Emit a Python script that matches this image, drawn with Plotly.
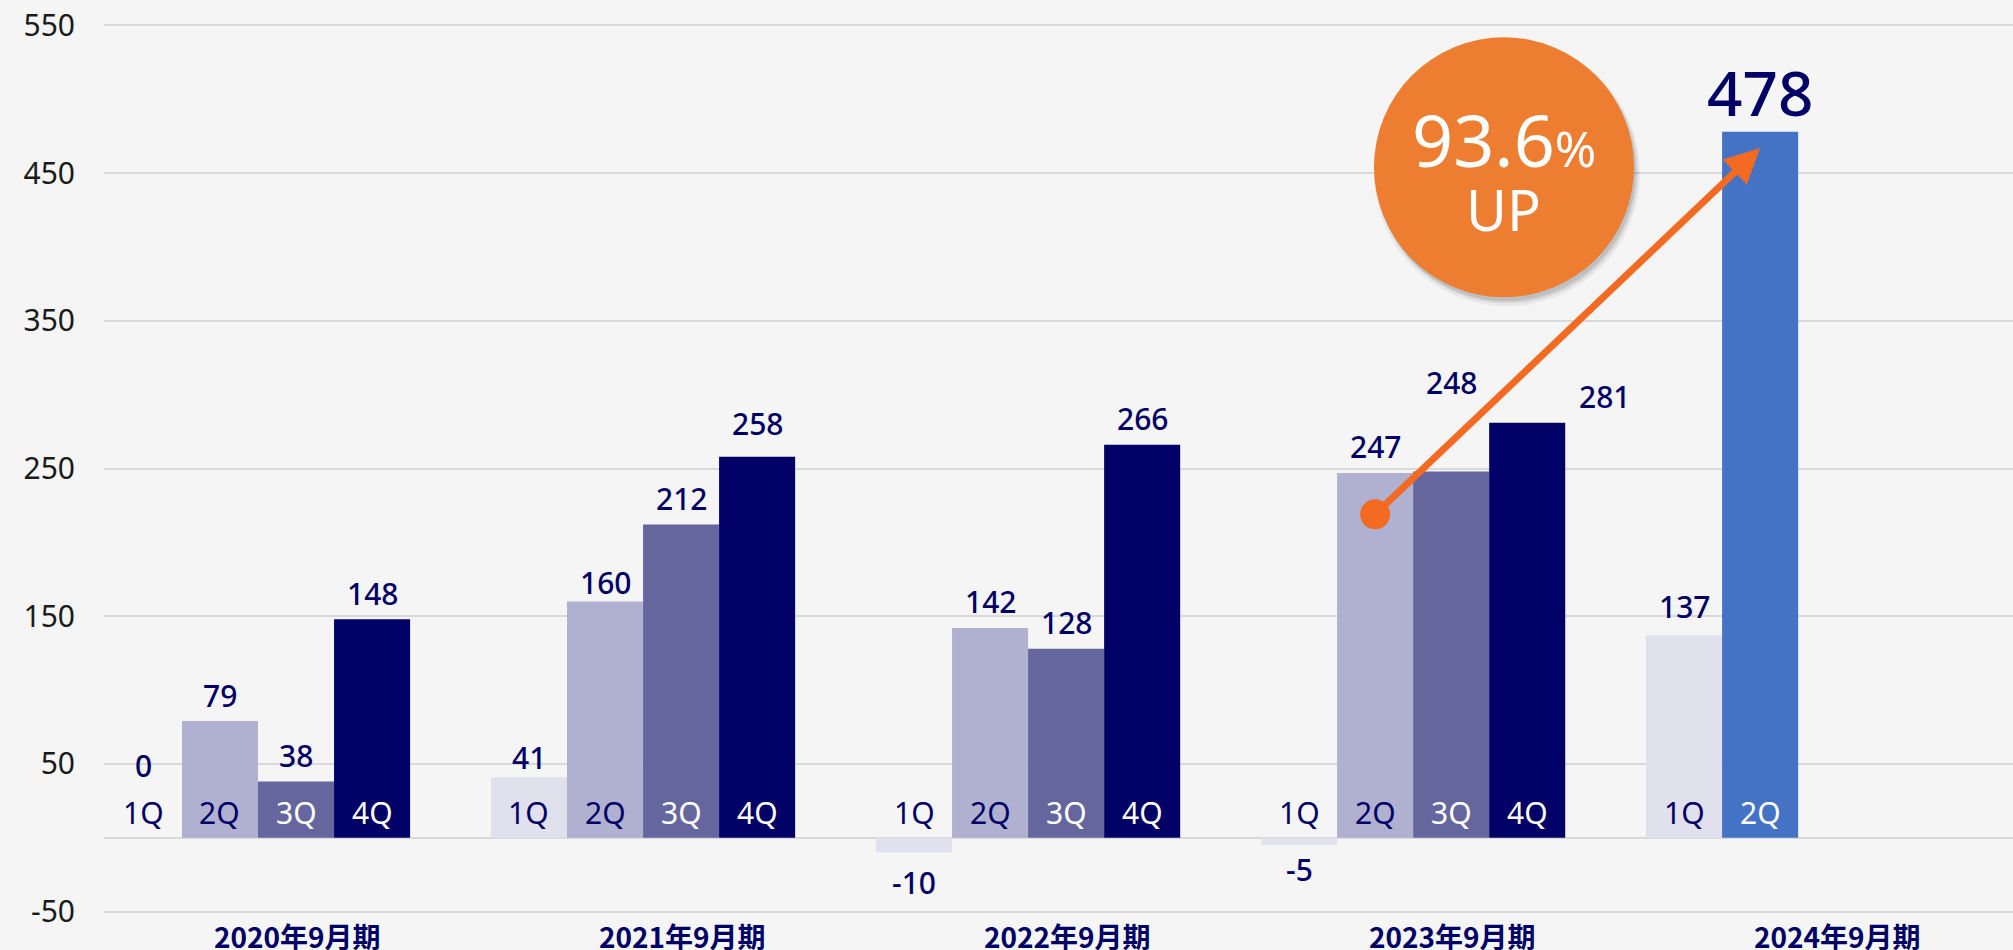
import plotly.graph_objects as go

# ---------------- data ----------------
years = ["2020年9月期", "2021年9月期", "2022年9月期", "2023年9月期", "2024年9月期"]
quarters = ["1Q", "2Q", "3Q", "4Q"]
q1_values = [0, 41, -10, -5, 137]
q2_values = [79, 160, 142, 247, 478]
q3_values = [38, 212, 128, 248, None]
q4_values = [148, 258, 266, 281, None]
y_tick_values = [-50, 50, 150, 250, 350, 450, 550]
growth_text = "93.6"
growth_suffix = "%"
growth_word = "UP"

# ---------------- style ----------------
BG = "#f5f5f5"
GRID = "#d9d9d9"
NAVY = "#000066"
Q_COLORS = ["#e1e1ee", "#b0b0d0", "#66669f", "#000066"]
Q_TEXT = [NAVY, NAVY, "white", "white"]
HIGHLIGHT = "#4472c4"
ORANGE = "#ed7d31"
ARROW = "#f36b22"
FONT = "Noto Sans"
CJK = "Noto Sans CJK JP"

BARGAP = 0.21
W = (1 - BARGAP) / 4
OFFSETS = [-(1 - BARGAP) / 2 + k * W for k in range(4)]

series = [q1_values, q2_values, q3_values, q4_values]
xs = list(range(len(years)))

# label nudges (pixels above bar end) for a few labels placed differently
label_shift = {(0, 0): 72, (1, 0): 20, (1, 1): 19, (1, 3): 33, (3, 2): 89,
               (4, 0): 29, (2, 0): -30, (3, 0): -24}
label_xshift = {(3, 3): 77}

fig = go.Figure()
for k, vals in enumerate(series):
    colors = [Q_COLORS[k]] * len(vals)
    if k == 1:
        colors[-1] = HIGHLIGHT
    fig.add_trace(go.Bar(
        x=xs, y=vals, width=W, offset=OFFSETS[k],
        marker=dict(color=colors, line=dict(width=0)),
        name=quarters[k], hoverinfo="skip", showlegend=False,
    ))

annotations = []
for k, vals in enumerate(series):
    for i, v in enumerate(vals):
        if v is None:
            continue
        cx = i + OFFSETS[k] + W / 2
        qcol = Q_TEXT[k]
        if k == 1 and i == len(years) - 1:
            qcol = "white"
        annotations.append(dict(x=cx, y=0, xref="x", yref="y", text=quarters[k],
                                showarrow=False, yshift=25,
                                font=dict(family=FONT, size=30, color=qcol)))
        big = (k == 1 and i == len(years) - 1)
        shift = label_shift.get((i, k), 26 if v >= 0 else -26)
        if big:
            shift = 40
        annotations.append(dict(x=cx, y=v, xref="x", yref="y", text=str(v),
                                showarrow=False, yshift=shift,
                                xshift=label_xshift.get((i, k), 0),
                                font=dict(family=FONT, size=62 if big else 30,
                                          color=NAVY, weight=500)))

# category labels
for i, yr in enumerate(years):
    annotations.append(dict(x=i, y=-51, xref="x", yref="y", text=yr, showarrow=False,
                            xshift=39, yshift=-23,
                            font=dict(family=CJK, size=28, color=NAVY, weight="bold")))

# growth arrow from 2023 2Q to 2024 2Q
x_from = 3 + OFFSETS[1] + W / 2
x_to = 4 + OFFSETS[1] + W / 2
y_from = q2_values[3] - 28
y_to = q2_values[4] - 11
annotations.append(dict(x=x_to, y=y_to, ax=x_from, ay=y_from, xref="x", yref="y",
                        axref="x", ayref="y", text="", showarrow=True, arrowhead=2,
                        arrowsize=1, arrowwidth=7, arrowcolor=ARROW, standoff=0,
                        startstandoff=0))
fig.add_trace(go.Scatter(x=[x_from], y=[y_from], mode="markers",
                         marker=dict(size=30, color=ARROW), hoverinfo="skip",
                         showlegend=False, cliponaxis=False))

# circle badge
cx_c, cy_c = 3.236, 454
shapes = []
for dx, dy, r, a in [(3, -6, 133, 0.05), (3, -5, 131, 0.08), (2, -4, 130, 0.10)]:
    shapes.append(dict(type="circle", xref="x", yref="y", xsizemode="pixel",
                       ysizemode="pixel", xanchor=cx_c, yanchor=cy_c,
                       x0=dx - r, x1=dx + r, y0=dy - r, y1=dy + r,
                       fillcolor=f"rgba(0,0,0,{a})", line=dict(width=0)))
shapes.append(dict(type="circle", xref="x", yref="y", xsizemode="pixel",
                   ysizemode="pixel", xanchor=cx_c, yanchor=cy_c,
                   x0=-130, x1=130, y0=-130, y1=130,
                   fillcolor=ORANGE, line=dict(width=0)))
annotations.append(dict(x=cx_c, y=cy_c, xref="x", yref="y", showarrow=False, yshift=28,
                        text=f"{growth_text}<span style='font-size:50px'>{growth_suffix}</span>",
                        font=dict(family=FONT, size=72, color="white")))
annotations.append(dict(x=cx_c, y=cy_c, xref="x", yref="y", showarrow=False, yshift=-42,
                        text=growth_word, font=dict(family=FONT, size=56, color="white")))

fig.update_layout(
    width=2013, height=950,
    margin=dict(l=104, r=0, t=24, b=37),
    paper_bgcolor=BG, plot_bgcolor=BG,
    barmode="overlay",
    showlegend=False,
    shapes=shapes,
    annotations=annotations,
    xaxis=dict(range=[-0.4, 4.558], showticklabels=False, showgrid=False,
               zeroline=False, fixedrange=True),
    yaxis=dict(range=[-51, 551], tickvals=y_tick_values,
               ticktext=[str(v) for v in y_tick_values],
               tickfont=dict(family=FONT, size=30, color="#1a1a1a"),
               showgrid=True, gridcolor=GRID, gridwidth=2,
               zeroline=True, zerolinecolor=GRID, zerolinewidth=2,
               ticks="", ticklabelstandoff=28, fixedrange=True),
)

fig.write_html("out.html",
               config={"displayModeBar": False},
               post_script="document.body.style.margin='0';"
                           "document.body.style.overflow='hidden';"
                           "document.body.style.background='#f5f5f5';")
